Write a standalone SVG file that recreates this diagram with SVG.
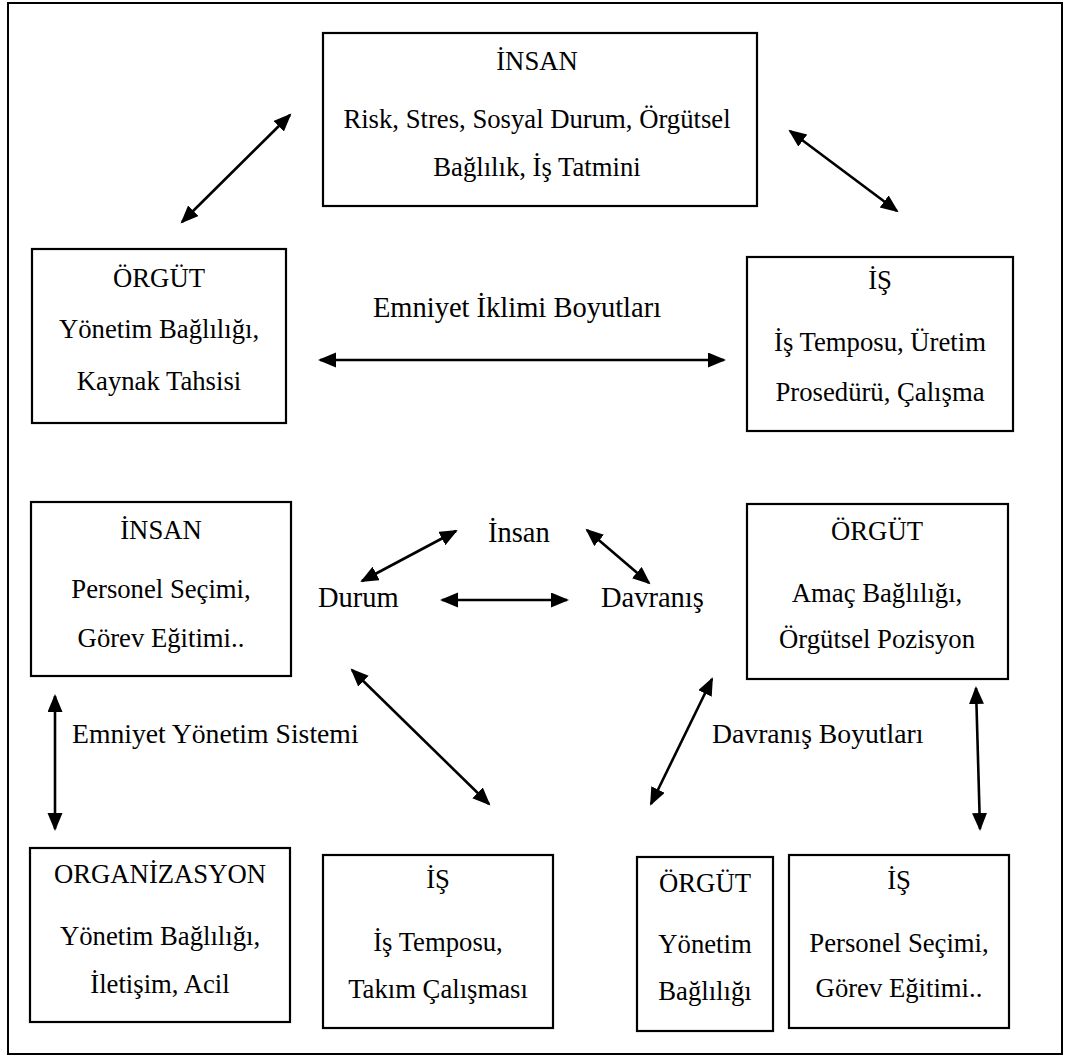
<svg xmlns="http://www.w3.org/2000/svg" width="1067" height="1057" viewBox="0 0 1067 1057">
  <style>
    .frame { fill: none; stroke: #000; stroke-width: 2; }
    .box { fill: #fff; stroke: #000; stroke-width: 2.2; }
    text { font-family: "Liberation Serif", "Times New Roman", serif; fill: #000; }
    .t { font-size: 26.7px; text-anchor: middle; }
    .lbl { font-size: 28.5px; }
    .lbl2 { font-size: 27.7px; }
    .conn { fill: none; stroke: #000; stroke-width: 2.6; marker-start: url(#head); marker-end: url(#head); }
  </style>
  <defs>
    <!-- filled triangular head used on both ends of every connector -->
    <marker id="head" markerUnits="userSpaceOnUse" markerWidth="20" markerHeight="16" refX="16" refY="7.5" orient="auto-start-reverse">
      <path d="M0,0 L18,7.5 L0,15 z" fill="#000"/>
    </marker>
  </defs>

  <rect width="1067" height="1057" fill="#fff"/>
  <rect class="frame" x="8" y="3" width="1054" height="1051"/>

  <!-- upper part: safety climate dimensions -->
  <g id="node-insan-top">
    <rect class="box" x="323" y="33" width="434" height="173"/>
    <text class="t" x="537" y="70">İNSAN</text>
    <text class="t" x="537" y="128">Risk, Stres, Sosyal Durum, Örgütsel</text>
    <text class="t" x="537" y="176">Bağlılık, İş Tatmini</text>
  </g>
  <g id="node-orgut-top">
    <rect class="box" x="32" y="249" width="254" height="174"/>
    <text class="t" x="159" y="287">ÖRGÜT</text>
    <text class="t" x="159" y="338">Yönetim Bağlılığı,</text>
    <text class="t" x="159" y="390">Kaynak Tahsisi</text>
  </g>
  <g id="node-is-top">
    <rect class="box" x="747" y="257" width="266" height="174"/>
    <text class="t" x="880" y="289">İŞ</text>
    <text class="t" x="880" y="351">İş Temposu, Üretim</text>
    <text class="t" x="880" y="401">Prosedürü, Çalışma</text>
  </g>
  <g id="label-iklim">
    <text class="lbl" x="517" y="317" text-anchor="middle">Emniyet İklimi Boyutları</text>
  </g>

  <!-- lower part: management system and behaviour -->
  <g id="node-insan-mid">
    <rect class="box" x="31" y="502" width="260" height="174"/>
    <text class="t" x="161" y="539">İNSAN</text>
    <text class="t" x="161" y="598">Personel Seçimi,</text>
    <text class="t" x="161" y="647">Görev Eğitimi..</text>
  </g>
  <g id="node-orgut-mid">
    <rect class="box" x="747" y="504" width="261" height="175"/>
    <text class="t" x="877" y="540">ÖRGÜT</text>
    <text class="t" x="877" y="602">Amaç Bağlılığı,</text>
    <text class="t" x="877" y="648">Örgütsel Pozisyon</text>
  </g>
  <g id="node-insan-small">
    <text class="lbl" x="488" y="542">İnsan</text>
  </g>
  <g id="node-durum">
    <text class="lbl" x="318" y="607">Durum</text>
  </g>
  <g id="node-davranis">
    <text class="lbl" x="601" y="607">Davranış</text>
  </g>
  <g id="label-eys">
    <text class="lbl2" x="72" y="743">Emniyet Yönetim Sistemi</text>
  </g>
  <g id="label-davranis">
    <text class="lbl2" x="712" y="743">Davranış Boyutları</text>
  </g>

  <g id="node-organizasyon">
    <rect class="box" x="30" y="848" width="260" height="174"/>
    <text class="t" x="160" y="883">ORGANİZASYON</text>
    <text class="t" x="160" y="945">Yönetim Bağlılığı,</text>
    <text class="t" x="160" y="993">İletişim, Acil</text>
  </g>
  <g id="node-is-bottom">
    <rect class="box" x="323" y="855" width="230" height="173"/>
    <text class="t" x="438" y="888">İŞ</text>
    <text class="t" x="438" y="951">İş Temposu,</text>
    <text class="t" x="438" y="998">Takım Çalışması</text>
  </g>
  <g id="node-orgut-bottom">
    <rect class="box" x="637" y="857" width="136" height="174"/>
    <text class="t" x="705" y="892">ÖRGÜT</text>
    <text class="t" x="705" y="953">Yönetim</text>
    <text class="t" x="705" y="1000">Bağlılığı</text>
  </g>
  <g id="node-is-right">
    <rect class="box" x="789" y="855" width="220" height="173"/>
    <text class="t" x="899" y="889">İŞ</text>
    <text class="t" x="899" y="952">Personel Seçimi,</text>
    <text class="t" x="899" y="997">Görev Eğitimi..</text>
  </g>

  <!-- two-headed connectors -->
  <g id="connectors">
    <line class="conn" x1="182" y1="222" x2="290" y2="115"/>
    <line class="conn" x1="790" y1="131" x2="897" y2="211"/>
    <line class="conn" x1="320" y1="360" x2="724" y2="360"/>
    <line class="conn" x1="362" y1="581" x2="456" y2="531"/>
    <line class="conn" x1="587" y1="530" x2="649" y2="583"/>
    <line class="conn" x1="442" y1="600" x2="567" y2="600"/>
    <line class="conn" x1="55" y1="696" x2="55" y2="829"/>
    <line class="conn" x1="352" y1="670" x2="489" y2="804"/>
    <line class="conn" x1="712" y1="679" x2="651" y2="804"/>
    <line class="conn" x1="976" y1="688" x2="980" y2="829"/>
  </g>
</svg>
